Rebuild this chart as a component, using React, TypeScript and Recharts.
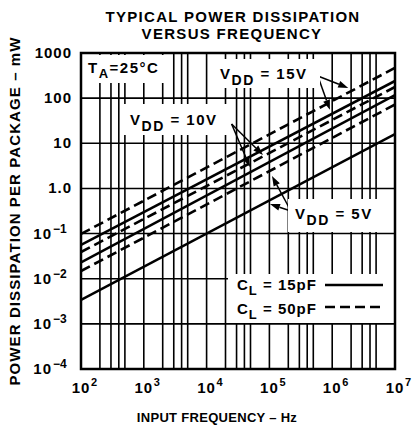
import React from 'react';
import { LineChart, Line, XAxis, YAxis, CartesianGrid, ReferenceLine } from 'recharts';

// input frequency (Hz) at the two ends of each straight log-log line
const FREQ = [1e2, 1e7];

// power dissipation per package (mW)
const VDD15_CL50 = [0.098, 468];
const VDD15_CL15 = [0.056, 240];
const VDD10_CL50 = [0.039, 177];
const VDD10_CL15 = [0.023, 117];
const VDD5_CL50 = [0.0148, 72];
const VDD5_CL15 = [0.0034, 16];

const X_DECADES = [1e2, 1e3, 1e4, 1e5, 1e6, 1e7];
const X_MINOR = [2, 3, 4, 5];
const X_EXP = ['2', '3', '4', '5', '6', '7'];

const Y_TICKS = [1e-4, 1e-3, 1e-2, 1e-1, 1, 10, 100, 1000];
const Y_LABELS = ['10|−4', '10|−3', '10|−2', '10|−1', '1.0', '10', '100', '1000'];

// annotation arrows, in data units [Hz, mW]
const ARROWS = [
  { from: [5.9e5, 309], to: [1.8e6, 168] },
  { from: [5.9e5, 309], to: [9.2e5, 55] },
  { from: [2.5e4, 26.7], to: [7.9e4, 5.5] },
  { from: [2.5e4, 26.7], to: [4.9e4, 3.0] },
  { from: [2.2e5, 0.316], to: [1.1e5, 1.88] },
  { from: [2.2e5, 0.316], to: [1.02e5, 0.45] },
];

const rows = FREQ.map((f, i) => ({
  f,
  v15d: VDD15_CL50[i],
  v15s: VDD15_CL15[i],
  v10d: VDD10_CL50[i],
  v10s: VDD10_CL15[i],
  v5d: VDD5_CL50[i],
  v5s: VDD5_CL15[i],
}));

const xTicks: number[] = [];
X_DECADES.forEach((d, i) => {
  xTicks.push(d);
  if (i < X_DECADES.length - 1) X_MINOR.forEach((m) => xTicks.push(d * m));
});

const FONT = '"Liberation Sans", Arial, sans-serif';

const XTick = (props: any) => {
  const { x, payload } = props;
  const idx = X_DECADES.findIndex((d) => Math.abs(d - payload.value) < d * 1e-6);
  if (idx < 0) return <g />;
  return (
    <g fontFamily={FONT} fontWeight="bold" fill="#000">
      <text x={x} y={393} textAnchor="middle" fontSize={15} letterSpacing={1}>10</text>
      <text x={x + 10} y={386} fontSize={11}>{X_EXP[idx]}</text>
    </g>
  );
};

const YTick = (props: any) => {
  const { y, payload } = props;
  const idx = Y_TICKS.findIndex((d) => Math.abs(d - payload.value) < d * 1e-6);
  if (idx < 0) return <g />;
  const [base, exp] = Y_LABELS[idx].split('|');
  if (!exp) {
    return (
      <text x={72} y={y + 5} textAnchor="end" fontFamily={FONT} fontWeight="bold" fontSize={15} letterSpacing={1}>
        {base}
      </text>
    );
  }
  return (
    <g fontFamily={FONT} fontWeight="bold" fill="#000">
      <text x={52} y={y + 5} textAnchor="end" fontSize={15} letterSpacing={1}>{base}</text>
      <text x={53} y={y - 1} fontSize={12}>{exp}</text>
    </g>
  );
};

const Arrow = (p: any) => {
  const { x1, y1, x2, y2 } = p;
  const a = Math.atan2(y2 - y1, x2 - x1);
  const L = 10;
  const W = 3.5;
  const bx = x2 - L * Math.cos(a);
  const by = y2 - L * Math.sin(a);
  const lx = bx - W * Math.sin(a);
  const ly = by + W * Math.cos(a);
  const rx = bx + W * Math.sin(a);
  const ry = by - W * Math.cos(a);
  return (
    <g>
      <line x1={x1} y1={y1} x2={bx} y2={by} stroke="#000" strokeWidth={1.5} />
      <polygon points={`${x2},${y2} ${lx},${ly} ${rx},${ry}`} fill="#000" />
    </g>
  );
};

const Vdd = ({ x, y, v }: { x: number; y: number; v: string }) => (
  <text x={x} y={y} fontFamily={FONT} fontWeight="bold" fontSize={15} letterSpacing={1.5}>
    <tspan>V</tspan>
    <tspan dy={6} fontSize={14}>DD</tspan>
    <tspan dy={-6}>{` = ${v}`}</tspan>
  </text>
);

const Cl = ({ x, y, v }: { x: number; y: number; v: string }) => (
  <text x={x} y={y} fontFamily={FONT} fontWeight="bold" fontSize={15} letterSpacing={1}>
    <tspan>C</tspan>
    <tspan dy={5} fontSize={13}>L</tspan>
    <tspan dy={-5}>{` = ${v}`}</tspan>
  </text>
);

const Overlay = () => (
  <svg width={414} height={426} style={{ position: 'absolute', left: 0, top: 0, pointerEvents: 'none' }}>
    <g fontFamily={FONT} fontWeight="bold" fill="#000">
      <text x={233} y={22} textAnchor="middle" fontSize={15} letterSpacing={1.3}>TYPICAL POWER DISSIPATION</text>
      <text x={232} y={39} textAnchor="middle" fontSize={15} letterSpacing={1.3}>VERSUS FREQUENCY</text>
      <text x={217} y={422} textAnchor="middle" fontSize={13} letterSpacing={0.3}>INPUT FREQUENCY – Hz</text>
      <text x={20} y={211} textAnchor="middle" fontSize={15} letterSpacing={1.1} transform="rotate(-90 20 211)">
        POWER DISSIPATION PER PACKAGE – mW
      </text>
    </g>

    {/* label boxes mask the grid */}
    <rect x={83} y={55} width={88} height={28} fill="#fff" />
    <rect x={214} y={59} width={106} height={29} fill="#fff" />
    <rect x={124} y={104} width={105} height={31} fill="#fff" />
    <rect x={288} y={199} width={98} height={33} fill="#fff" />
    <rect x={228} y={274} width={166} height={49} fill="#fff" />

    <text x={88} y={73} fontFamily={FONT} fontWeight="bold" fontSize={15} letterSpacing={1.5}>
      <tspan>T</tspan>
      <tspan dy={5} fontSize={13}>A</tspan>
      <tspan dy={-5}>=25°C</tspan>
    </text>
    <Vdd x={220} y={79} v="15V" />
    <Vdd x={130} y={125} v="10V" />
    <Vdd x={295} y={219} v="5V" />

    <Cl x={237} y={290} v="15pF" />
    <line x1={325} y1={285} x2={383} y2={285} stroke="#000" strokeWidth={2.6} />
    <Cl x={237} y={314} v="50pF" />
    <line x1={325} y1={307} x2={383} y2={307} stroke="#000" strokeWidth={2.6} strokeDasharray="10 5" />

    <rect x={81} y={53} width={314} height={316} fill="none" stroke="#000" strokeWidth={2.5} />
  </svg>
);

export default function App() {
  return (
    <div style={{ position: 'absolute', left: 0, top: 0, width: 414, height: 426, background: '#fff' }}>
      <LineChart width={414} height={426} data={rows} margin={{ top: 53, right: 19, bottom: 17, left: 21 }}>
        <CartesianGrid stroke="#000" strokeWidth={1.6} />
        <XAxis
          dataKey="f"
          type="number"
          scale="log"
          domain={[1e2, 1e7]}
          ticks={xTicks}
          interval={0}
          tick={(p: any) => <XTick {...p} />}
          axisLine={false}
          tickLine={false}
          height={40}
          allowDataOverflow
        />
        <YAxis
          type="number"
          scale="log"
          domain={[1e-4, 1000]}
          ticks={Y_TICKS}
          interval={0}
          tick={(p: any) => <YTick {...p} />}
          axisLine={false}
          tickLine={false}
          width={60}
          allowDataOverflow
        />
        <Line dataKey="v15d" stroke="#000" strokeWidth={2.6} strokeDasharray="10 5" dot={false} isAnimationActive={false} />
        <Line dataKey="v15s" stroke="#000" strokeWidth={2.6} dot={false} isAnimationActive={false} />
        <Line dataKey="v10d" stroke="#000" strokeWidth={2.6} strokeDasharray="10 5" dot={false} isAnimationActive={false} />
        <Line dataKey="v10s" stroke="#000" strokeWidth={2.6} dot={false} isAnimationActive={false} />
        <Line dataKey="v5d" stroke="#000" strokeWidth={2.6} strokeDasharray="10 5" dot={false} isAnimationActive={false} />
        <Line dataKey="v5s" stroke="#000" strokeWidth={2.6} dot={false} isAnimationActive={false} />
        {ARROWS.map((a, i) => (
          <ReferenceLine
            key={i}
            segment={[
              { x: a.from[0], y: a.from[1] },
              { x: a.to[0], y: a.to[1] },
            ]}
            ifOverflow="visible"
            shape={(p: any) => <Arrow {...p} />}
          />
        ))}
      </LineChart>
      <Overlay />
    </div>
  );
}
